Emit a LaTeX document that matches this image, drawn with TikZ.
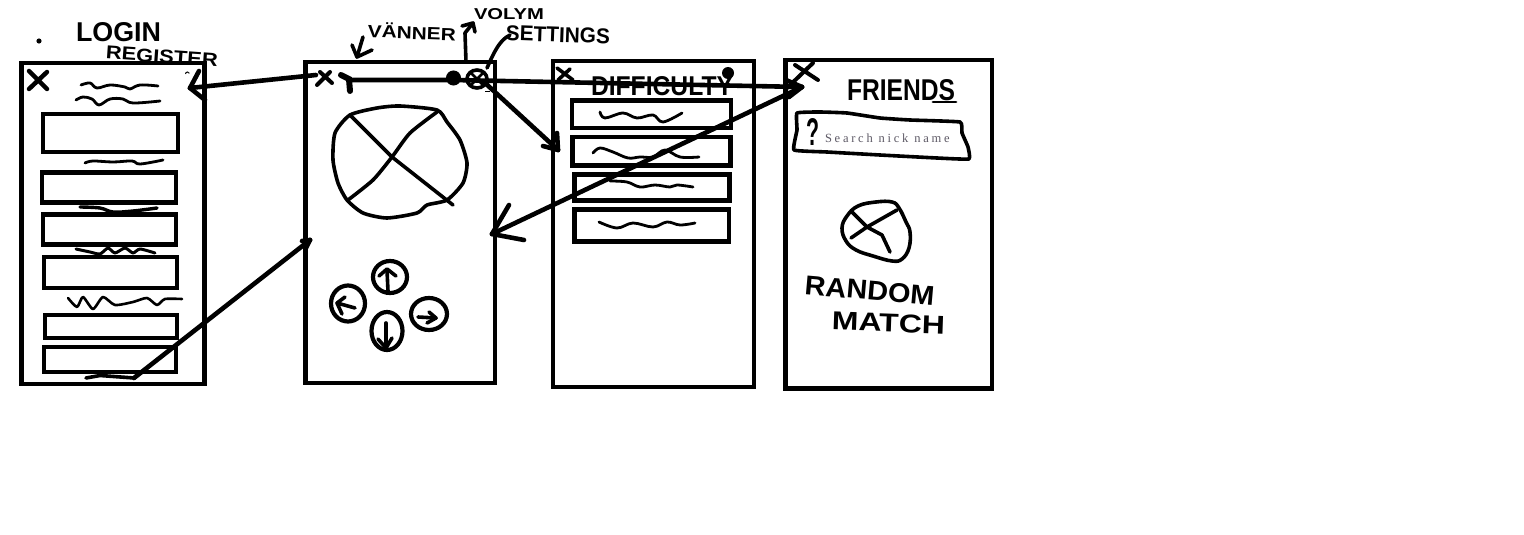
\documentclass[tikz,border=0pt]{standalone}
\usepackage{fontspec}
\setmainfont{Liberation Sans}
\newfontfamily\searchfont[LetterSpace=22]{Liberation Serif}
\definecolor{searchcol}{HTML}{5E5A66}
\newcommand{\fittext}[3]{\resizebox{#1pt}{#2pt}{\bfseries #3}}
\usetikzlibrary{shapes.geometric}
\tikzset{
  pen/.style={line width=3.6pt,line cap=round,line join=round,black},
  thin pen/.style={line width=2.8pt,line cap=round,line join=round,black},
  fat pen/.style={line width=4.5pt,line cap=round,line join=round,black},
  screen/.style={draw=black,line width=4.6pt,inner sep=0pt,fill=white,rectangle},
  field/.style={draw=black,line width=4.4pt,inner sep=0pt,rectangle},
  hand/.style={inner sep=0pt,outer sep=0pt,black},
  wire/.style={line width=4.6pt,line cap=round,line join=round,black},
  dpad/.style={draw=black,line width=4.2pt,ellipse,inner sep=0pt},
}
\begin{document}
\begin{tikzpicture}[x=1pt,y=-1pt]
\useasboundingbox (0,0) rectangle (1524,535);
\fill[white] (0,0) rectangle (1524,535);

% screens
\node[screen,minimum width=183pt,minimum height=321pt] (s1) at (113,223.5) {};
\node[screen,minimum width=189.5pt,minimum height=321pt] (s2) at (400.25,222.5) {};
\node[screen,minimum width=201pt,minimum height=326pt] (s3) at (653.5,224) {};
\node[screen,minimum width=206.5pt,minimum height=328.5pt] (s4) at (888.75,224.25) {};

% screen 1 fields
\node[field,minimum width=135pt,minimum height=38pt] (f11) at (110.5,133) {};
\node[field,minimum width=134pt,minimum height=30pt] (f12) at (109,187.5) {};
\node[field,minimum width=133pt,minimum height=30pt] (f13) at (109.5,229.5) {};
\node[field,minimum width=133pt,minimum height=31pt] (f14) at (110.5,272.5) {};
\node[field,minimum width=132pt,minimum height=23pt] (f15) at (111,326.5) {};
\node[field,minimum width=132pt,minimum height=25pt] (f16) at (110,359.5) {};

% screen 3 fields
\node[field,minimum width=159.5pt,minimum height=27.5pt] (f31) at (651.5,114.25) {};
\node[field,minimum width=158pt,minimum height=28.5pt] (f32) at (651.5,151.25) {};
\node[field,minimum width=155pt,minimum height=26pt] (f33) at (652,187.5) {};
\node[field,minimum width=154.5pt,minimum height=32pt] (f34) at (651.75,225.5) {};

% screen 1 scribbles
\draw[pen,line width=2.8pt] plot[smooth,tension=.6] coordinates {(81,85)(90,83)(97,88)(110,85)(125,87)(130,89)(140,85)(158,86)};
\draw[pen,line width=2.8pt] plot[smooth,tension=.6] coordinates {(76,100)(83,97)(92,99)(99,105)(110,99)(123,99)(133,103)(160,101)};
\draw[pen,line width=2.8pt] plot[smooth,tension=.6] coordinates {(85,163)(93,161)(113,162)(132,161)(140,164)(163,160)};
\draw[pen,line width=3.4pt] plot[smooth,tension=.6] coordinates {(80,207)(100,208)(113,212)(133,211)(157,208)};
\draw[pen,line width=3pt] plot[smooth,tension=.4] coordinates {(76,249)(90,252)(100,254)(108,248)(115,253)(125,248)(133,253)(140,249)(155,253)};
\draw[pen,line width=2.6pt] plot[smooth,tension=.4] coordinates {(68,298)(77,307)(83,297)(93,309)(103,297)(115,305)(133,302)(147,298)(157,305)(165,299)(182,299)};
\draw[pen,line width=3.6pt] (86,378) -- (100,375.5) -- (134,378);
\draw[fat pen] (29,71) -- (47,89);
\draw[fat pen] (47,72) -- (29,89);
\draw[line width=1pt,black] (185.5,74) arc[start angle=180,end angle=20,radius=2pt];
\fill[black] (39,41) circle[radius=2.6pt];

% screen 1 titles
\node[hand,anchor=west] (login) at (76,32) {\fittext{85}{19}{LOGIN}};
\node[hand,anchor=west,rotate=-4] (register) at (106,52.5) {\fittext{112}{13}{REGISTER}};

% screen 2 controls
\draw[fat pen,line width=4pt] (317,85) -- (330,72);
\draw[fat pen,line width=4pt] (320,72) -- (332,83);
\draw[line width=6pt,line cap=round,black] (341,75) -- (349,79) -- (350,91);
\node[circle,fill=black,draw=black,line width=1pt,minimum size=14pt,inner sep=0pt] (volume) at (453.5,78) {};
\node[draw=black,line width=3.6pt,ellipse,minimum width=20pt,minimum height=18pt,inner sep=0pt] (settings) at (477,79) {};
\draw[line width=2.8pt,black] (470,72) -- (484,86);
\draw[line width=2.8pt,black] (484,72) -- (470,86);
\draw[line width=1pt,black] (485,92) -- (490,92);

% screen 2 labels + pointers
\node[hand,anchor=west,rotate=-2] (vanner) at (368,30) {\fittext{88}{15}{VÄNNER}};
\node[hand,anchor=west] (volym) at (474,14.5) {\fittext{70}{11}{VOLYM}};
\node[hand,anchor=west,rotate=-2] (settingslabel) at (506,33) {\fittext{104}{15}{SETTINGS}};
\draw[pen] (363,37) -- (357,57);
\draw[pen] (352,45) -- (357,57) -- (372,50);
\draw[pen] (466,62) -- (465,33) -- (473,23);
\draw[pen] (462,26) -- (473,23) -- (475,32);
\draw[pen] (487,68) .. controls (495,50) and (500,40) .. (510,35);

% big ball
\draw[pen] plot[smooth cycle,tension=.4] coordinates {(350,115)(377,108)(400,106)(437,110)(447,122)(460,140)(467,163)(463,183)(447,200)(427,205)(417,213)(387,218)(363,213)(347,200)(338,183)(333,160)(335,133)};
\draw[pen] (350,115) -- (392,157) -- (453,205);
\draw[pen] plot[smooth,tension=.4] coordinates {(437,112)(410,133)(392,157)(373,180)(348,200)};

% d-pad
\node[dpad,minimum width=34pt,minimum height=32pt] (up) at (390,277) {};
\node[dpad,minimum width=34pt,minimum height=36pt] (left) at (348,303.5) {};
\node[dpad,minimum width=36pt,minimum height=32pt] (right) at (429,314) {};
\node[dpad,minimum width=31pt,minimum height=38pt] (down) at (387,331) {};
\draw[pen] (388,291) -- (387,270);
\draw[pen] (379,276) -- (387,269) -- (396,276);
\draw[pen] (355,308) -- (337,303);
\draw[pen] (345,297) -- (337,303) -- (342,314);
\draw[pen] (418,317) -- (436,318);
\draw[pen] (429,312) -- (436,318) -- (427,323);
\draw[pen] (386,323) -- (386,348);
\draw[pen] (378,339) -- (386,348) -- (392,338);

% screen 3 header
\draw[pen] (557,68) -- (573,80);
\draw[pen] (570,69) -- (558,80);
\node[circle,fill=black,minimum size=12pt,inner sep=0pt] (help3) at (728,73) {};
\node[hand,anchor=west] (difficulty) at (591,86) {\fittext{142}{19}{DIFFICULTY}};

% screen 3 scribbles
\draw[thin pen] plot[smooth,tension=.6] coordinates {(600,112)(605,118)(623,113)(637,118)(653,115)(663,122)(682,113)};
\draw[thin pen] plot[smooth,tension=.6] coordinates {(593,153)(600,148)(613,152)(628,158)(640,157)(653,157)(665,150)(680,157)(699,157)};
\draw[thin pen] plot[smooth,tension=.6] coordinates {(610,181)(627,182)(640,187)(655,185)(670,187)(677,185)(693,187)};
\draw[thin pen] plot[smooth,tension=.6] coordinates {(599,222)(617,228)(633,223)(653,227)(667,222)(680,225)(695,223)};

% screen 4 content
\node[hand,anchor=west] (friends) at (847,90) {\fittext{108}{21}{FRIENDS}};
\draw[thin pen] (933,102) -- (956,102);
\draw[pen] plot[smooth cycle,tension=.2] coordinates {(797,113)(820,112)(847,113)(880,118)(910,120)(960,122)(962,133)(968,147)(969,159)(937,158)(880,155)(827,152)(794,150)(797,130)};
\node[hand] (question) at (813,131.5) {\fittext{13}{27}{?}};
\node[hand,anchor=west,text=searchcol,font=\searchfont\fontsize{12.5pt}{14pt}\selectfont] (search) at (825,138.5) {Search nick name};
\draw[pen] plot[smooth cycle,tension=.7] coordinates {(858,206)(876,202)(892,202)(899,208)(906,222)(910,232)(909,248)(902,259)(892,261)(873,256)(856,250)(846,241)(842,228)(847,216)};
\draw[pen] (897,210) -- (867,227) -- (851,238);
\draw[pen] (852,212) -- (867,227) -- (882,235) -- (890,252);
\node[hand,anchor=west,rotate=-5] (random) at (805,285) {\fittext{130}{19}{RANDOM}};
\node[hand,anchor=west,rotate=-2] (match) at (832,321) {\fittext{113}{18}{MATCH}};
\draw[fat pen,line width=4pt] (787,88) -- (813,63);
\draw[fat pen,line width=4pt] (795,65) -- (818,80);

% connector ends
\coordinate (playx) at (316,75);
\coordinate (backtip) at (190,88);
\coordinate (regfield) at (134,378);
\coordinate (s2left) at (310,240);
\coordinate (vannericon) at (349,80);
\coordinate (friendstip) at (802,87);
\coordinate (s2right) at (492,234);
\coordinate (gear) at (484,82);
\coordinate (difftip) at (558,150);

% connectors
\draw[wire] (playx) -- (backtip);
\draw[wire] (backtip) -- ++(9,-17);
\draw[wire] (backtip) -- ++(15,12);
\draw[wire] (regfield) -- (s2left);
\draw[wire] (s2left) -- ++(-8,1);
\draw[wire] (s2left) -- ++(-4,8);
\draw[wire] (vannericon) -- (453,80) -- (friendstip);
\draw[wire] (friendstip) -- ++(-16,-7);
\draw[wire] (friendstip) -- ++(-13,10);
\draw[wire] (friendstip) -- (s2right);
\draw[wire] (s2right) -- ++(17,-29);
\draw[wire] (s2right) -- ++(32,6);
\draw[wire] (gear) -- (difftip);
\draw[wire] (difftip) -- ++(-1,-17);
\draw[wire] (difftip) -- ++(-15,-4);
\end{tikzpicture}
\end{document}
